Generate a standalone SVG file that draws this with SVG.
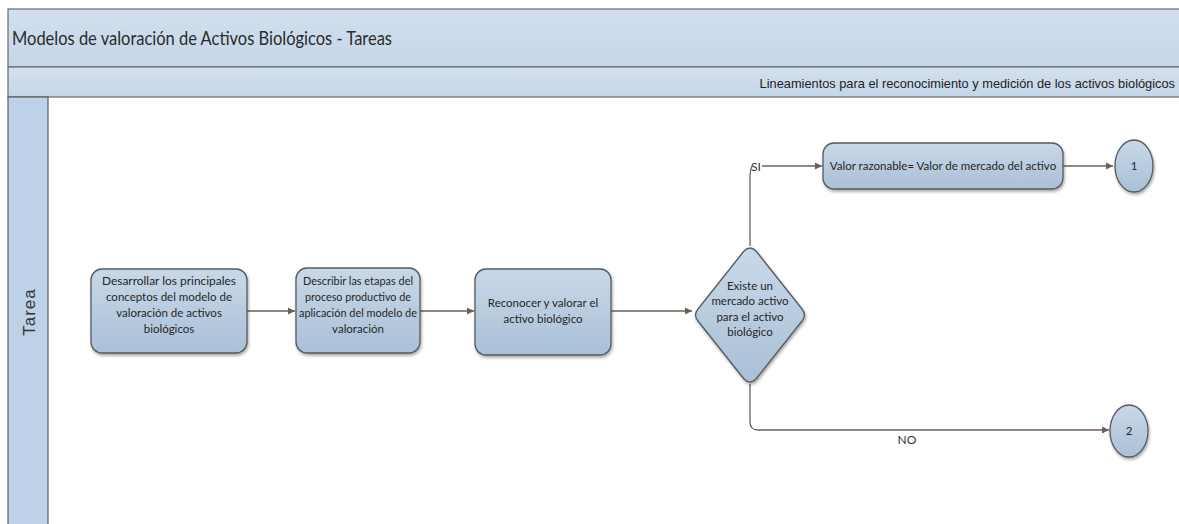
<svg xmlns="http://www.w3.org/2000/svg" width="1179" height="524" viewBox="0 0 1179 524">
<style>
.lbl{font-family:Lato,"Open Sans",sans-serif;font-size:11.5px;fill:#262626;text-anchor:middle}
.node{fill:url(#ng);stroke:#555a60;stroke-width:1.3;filter:url(#sh)}
.conn{fill:none;stroke:#6e5f55;stroke-width:1.3}
.band{fill:url(#bg);stroke:#6a6a6a;stroke-width:1.2}
</style>
<defs>
<linearGradient id="ng" x1="0" y1="0" x2="0" y2="1">
<stop offset="0" stop-color="#c9d8e8"/><stop offset="1" stop-color="#a9c0d7"/>
</linearGradient>
<linearGradient id="bg" x1="0" y1="0" x2="0" y2="1">
<stop offset="0" stop-color="#d3e0ee"/><stop offset="1" stop-color="#c4d6e9"/>
</linearGradient>
<filter id="sh" x="-20%" y="-20%" width="140%" height="150%">
<feDropShadow dx="1" dy="2" stdDeviation="1.5" flood-color="#000" flood-opacity="0.35"/>
</filter>
<marker id="ah" markerWidth="8" markerHeight="8" refX="7" refY="4" orient="auto" markerUnits="userSpaceOnUse">
<path d="M0,0.5 L7,4 L0,7.5 Z" fill="#6e5f55"/>
</marker>
</defs>
<rect width="1179" height="524" fill="#ffffff"/>
<g id="pool">
<rect class="band" x="8" y="9" width="1180" height="58"/>
<text x="12" y="45" font-family="Lato,'Open Sans',sans-serif" font-size="20" fill="#2b2b2b" textLength="380" lengthAdjust="spacingAndGlyphs">Modelos de valoración de Activos Biológicos - Tareas</text>
<rect class="band" x="8" y="67" width="1180" height="30"/>
<text x="1175" y="88" font-family="'Liberation Sans',Arial,sans-serif" font-size="12.8" fill="#222" text-anchor="end">Lineamientos para el reconocimiento y medición de los activos biológicos</text>
<rect x="8" y="97" width="40" height="440" fill="#bdd2e8" stroke="#5c5c5c" stroke-width="1.2"/>
<text transform="translate(35,312) rotate(-90)" font-family="'Liberation Sans',Arial,sans-serif" font-size="17" fill="#333" text-anchor="middle" letter-spacing="1">Tarea</text>
</g>
<g id="connectors">
<path class="conn" d="M247,311 H295" marker-end="url(#ah)"/>
<path class="conn" d="M420,311 H474" marker-end="url(#ah)"/>
<path class="conn" d="M611,311 H692" marker-end="url(#ah)"/>
<path class="conn" d="M750,246 V176 Q750,170 752,166"/>
<path class="conn" d="M762,166 H822" marker-end="url(#ah)"/>
<text x="756" y="171" font-family="Lato,'Open Sans',sans-serif" font-size="12" fill="#333" text-anchor="middle">SI</text>
<path class="conn" d="M1063,166 H1113" marker-end="url(#ah)"/>
<path class="conn" d="M750,384 V422 Q750,430 758,430 H1109" marker-end="url(#ah)"/>
<text x="907" y="444" font-family="Lato,'Open Sans',sans-serif" font-size="12" fill="#333" text-anchor="middle">NO</text>
</g>
<g id="n1">
<rect class="node" x="91" y="269" width="156" height="84" rx="11"/>
<text class="lbl" x="169" y="285" textLength="134" lengthAdjust="spacingAndGlyphs">Desarrollar los principales</text>
<text class="lbl" x="169" y="301">conceptos del modelo de</text>
<text class="lbl" x="169" y="317">valoración de activos</text>
<text class="lbl" x="169" y="333">biológicos</text>
</g>
<g id="n2">
<rect class="node" x="296" y="268" width="124" height="85" rx="11"/>
<text class="lbl" x="358" y="285" textLength="110" lengthAdjust="spacingAndGlyphs">Describir las etapas del</text>
<text class="lbl" x="358" y="301" textLength="106" lengthAdjust="spacingAndGlyphs">proceso productivo de</text>
<text class="lbl" x="358" y="317" textLength="118" lengthAdjust="spacingAndGlyphs">aplicación del modelo de</text>
<text class="lbl" x="358" y="333">valoración</text>
</g>
<g id="n3">
<rect class="node" x="475" y="269" width="136" height="86" rx="11"/>
<text class="lbl" x="543" y="307">Reconocer y valorar el</text>
<text class="lbl" x="543" y="323">activo biológico</text>
</g>
<g id="d1">
<path class="node" d="M744,251 Q750,245 756,251 L802,309 Q807,315 802,321 L756,379 Q750,385 744,379 L698,321 Q693,315 698,309 Z"/>
<text class="lbl" x="750" y="290">Existe un</text>
<text class="lbl" x="750" y="305">mercado activo</text>
<text class="lbl" x="750" y="321">para el activo</text>
<text class="lbl" x="750" y="336">biológico</text>
</g>
<g id="n4">
<rect class="node" x="823" y="143" width="240" height="46" rx="11"/>
<text class="lbl" x="943" y="170">Valor razonable= Valor de mercado del activo</text>
</g>
<g id="c1">
<ellipse class="node" cx="1134" cy="166" rx="19" ry="26"/>
<text class="lbl" x="1134" y="170" font-size="9">1</text>
</g>
<g id="c2">
<ellipse class="node" cx="1129" cy="431" rx="19" ry="26"/>
<text class="lbl" x="1129" y="435" font-size="9">2</text>
</g>
</svg>
